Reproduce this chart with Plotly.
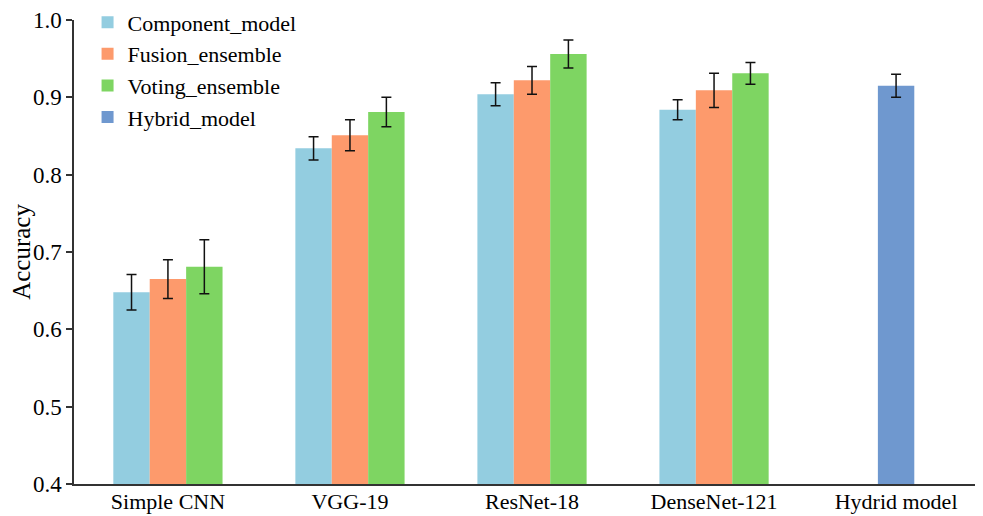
import plotly.graph_objects as go

categories = ["Simple CNN", "VGG-19", "ResNet-18", "DenseNet-121", "Hydrid model"]
base_cats = categories[:4]

component_vals = [0.648, 0.834, 0.904, 0.884]
component_err = [0.023, 0.015, 0.015, 0.013]
fusion_vals = [0.665, 0.851, 0.922, 0.909]
fusion_err = [0.025, 0.020, 0.018, 0.022]
voting_vals = [0.681, 0.881, 0.956, 0.931]
voting_err = [0.035, 0.019, 0.018, 0.014]
hybrid_vals = [0.915]
hybrid_err = [0.015]

y_ticks = [0.4, 0.5, 0.6, 0.7, 0.8, 0.9, 1.0]
y_tick_labels = ["0.4", "0.5", "0.6", "0.7", "0.8", "0.9", "1.0"]

FONT = "Liberation Serif"
W = 0.2

def bar(name, x, y, e, color, offset):
    return go.Bar(
        name=name, x=x, y=y, width=W, offset=offset,
        marker=dict(color=color, line=dict(width=0)),
        error_y=dict(type="data", array=e, visible=True, color="#111111",
                     thickness=1.5, width=5),
    )

fig = go.Figure()
fig.add_trace(bar("Component_model", base_cats, component_vals, component_err, "#93CDE0", -0.3))
fig.add_trace(bar("Fusion_ensemble", base_cats, fusion_vals, fusion_err, "#FD9A6C", -0.1))
fig.add_trace(bar("Voting_ensemble", base_cats, voting_vals, voting_err, "#7ED562", 0.1))
fig.add_trace(bar("Hybrid_model", categories[4:], hybrid_vals, hybrid_err, "#6F98CF", -0.1))

# page body has an 8px margin, so the figure is sized/offset to compensate
fig.update_layout(
    width=975, height=508,
    margin=dict(l=66, r=5, t=12, b=32, autoexpand=False),
    barmode="overlay",
    plot_bgcolor="white", paper_bgcolor="white",
    font=dict(family=FONT, size=23, color="black"),
    showlegend=True,
    legend=dict(x=0.015, y=1.04, xanchor="left", yanchor="top",
                bgcolor="rgba(0,0,0,0)", font=dict(family=FONT, size=22),
                tracegroupgap=0, itemsizing="constant"),
)
fig.update_xaxes(
    type="category", categoryorder="array", categoryarray=categories,
    range=[-0.516, 4.45], showline=True, linecolor="#333333", linewidth=1.5,
    ticks="", showgrid=False, zeroline=False, automargin=False,
    ticklabelstandoff=-3,
    tickfont=dict(family=FONT, size=22, color="black"),
)
fig.update_yaxes(
    range=[0.4, 1.0], tickvals=y_ticks, ticktext=y_tick_labels,
    showline=True, linecolor="#333333", linewidth=1.5,
    ticks="outside", ticklen=6, tickwidth=1.5, tickcolor="#333333",
    showgrid=False, zeroline=False, automargin=False,
    tickfont=dict(family=FONT, size=23, color="black"),
    title=dict(text="Accuracy", font=dict(family=FONT, size=25, color="black"), standoff=4),
)

fig.write_html("out.html")
